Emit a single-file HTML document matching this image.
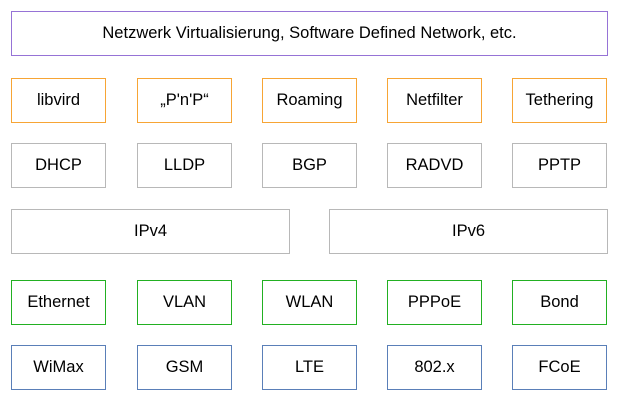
<!DOCTYPE html>
<html><head><style>
body{margin:0;width:621px;height:403px;background:#fff;position:relative;font-family:"Liberation Sans",sans-serif;font-size:16.5px;color:#000}
.b{position:absolute;box-sizing:border-box;border:1px solid;display:flex;align-items:center;justify-content:center;height:45px}
.p{border-color:#9673d6}.o{border-color:#f7a535}.g{border-color:#b8b8b8}.gr{border-color:#22b022}.bl{border-color:#5a7fb8}
</style></head><body>
<div class="b p" style="left:11px;top:11px;width:597px">Netzwerk Virtualisierung, Software Defined Network, etc.</div>

<div class="b o" style="left:11px;top:78px;width:95px">libvird</div>
<div class="b o" style="left:137px;top:78px;width:95px">„P'n'P“</div>
<div class="b o" style="left:262px;top:78px;width:95px">Roaming</div>
<div class="b o" style="left:387px;top:78px;width:95px">Netfilter</div>
<div class="b o" style="left:512px;top:78px;width:95px">Tethering</div>

<div class="b g" style="left:11px;top:143px;width:95px">DHCP</div>
<div class="b g" style="left:137px;top:143px;width:95px">LLDP</div>
<div class="b g" style="left:262px;top:143px;width:95px">BGP</div>
<div class="b g" style="left:387px;top:143px;width:95px">RADVD</div>
<div class="b g" style="left:512px;top:143px;width:95px">PPTP</div>

<div class="b g" style="left:11px;top:209px;width:279px">IPv4</div>
<div class="b g" style="left:329px;top:209px;width:279px">IPv6</div>

<div class="b gr" style="left:11px;top:280px;width:95px">Ethernet</div>
<div class="b gr" style="left:137px;top:280px;width:95px">VLAN</div>
<div class="b gr" style="left:262px;top:280px;width:95px">WLAN</div>
<div class="b gr" style="left:387px;top:280px;width:95px">PPPoE</div>
<div class="b gr" style="left:512px;top:280px;width:95px">Bond</div>

<div class="b bl" style="left:11px;top:345px;width:95px">WiMax</div>
<div class="b bl" style="left:137px;top:345px;width:95px">GSM</div>
<div class="b bl" style="left:262px;top:345px;width:95px">LTE</div>
<div class="b bl" style="left:387px;top:345px;width:95px">802.x</div>
<div class="b bl" style="left:512px;top:345px;width:95px">FCoE</div>
</body></html>
